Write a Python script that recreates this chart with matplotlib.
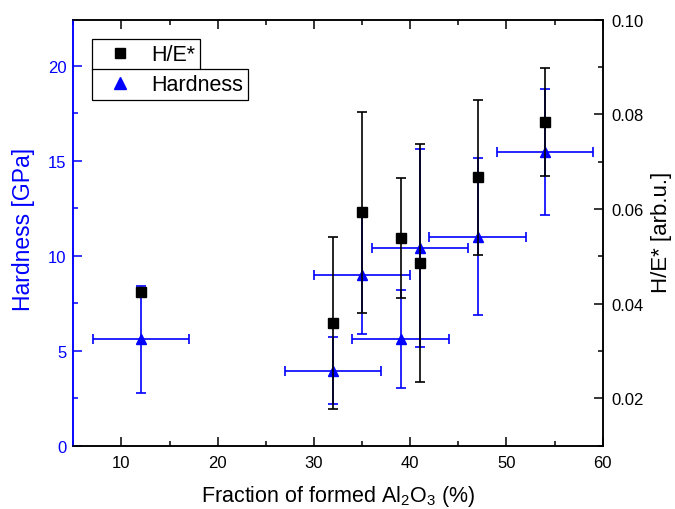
import matplotlib
matplotlib.use('Agg')
import matplotlib.pyplot as plt
from matplotlib.ticker import MultipleLocator, FormatStrFormatter
from matplotlib.lines import Line2D

plt.rcParams['font.family'] = ['Liberation Sans', 'DejaVu Sans']
plt.rcParams['mathtext.default'] = 'regular'

# fraction of formed Al2O3 (%) and its spread
frac = [12, 32, 35, 39, 41, 47, 54]
frac_err = [5, 5, 5, 5, 5, 5, 5]

# hardness [GPa]
hard = [5.6, 3.95, 9.0, 5.6, 10.4, 11.0, 15.45]
hard_err = [2.8, 1.75, 3.1, 2.57, 5.2, 4.12, 3.3]

# H/E* [arb.u.]
he = [0.0425, 0.0359, 0.0593, 0.0539, 0.0486, 0.0667, 0.0784]
he_err = [0.0005, 0.0182, 0.0213, 0.0127, 0.0251, 0.0164, 0.0114]

W, H = 675, 510
fig = plt.figure(figsize=(6.75, 5.1), dpi=100)
ax = fig.add_axes([0.1086, 0.1241, 0.7843, 0.8353])
ax2 = ax.twinx()

blue = '#0000ff'
ax.errorbar(frac, hard, yerr=hard_err, xerr=frac_err, fmt='^', color=blue,
            ms=7.5, elinewidth=1.2, capsize=3.3, capthick=1.2, zorder=3)
ax2.errorbar(frac, he, yerr=he_err, fmt='s', color='black',
             ms=6.5, elinewidth=1.2, capsize=3.3, capthick=1.2, zorder=3)

ax.set_xlim(5, 60)
ax.set_ylim(0, 22.42)
ax2.set_ylim(0.01, 0.10)

ax.xaxis.set_major_locator(MultipleLocator(10))
ax.xaxis.set_minor_locator(MultipleLocator(5))
ax.yaxis.set_major_locator(MultipleLocator(5))
ax.yaxis.set_minor_locator(MultipleLocator(2.5))
ax2.yaxis.set_major_locator(MultipleLocator(0.02))
ax2.yaxis.set_minor_locator(MultipleLocator(0.01))
ax2.yaxis.set_major_formatter(FormatStrFormatter('%.2f'))

for a in (ax, ax2):
    for s in a.spines.values():
        s.set_linewidth(1.1)
ax2.spines['left'].set_color(blue)
ax.spines['left'].set_color(blue)

ax.tick_params(axis='x', which='both', direction='in', top=True, labelsize=12, width=1.1, pad=7)
ax.tick_params(axis='x', which='major', length=6.5)
ax.tick_params(axis='x', which='minor', length=3.5)
ax.tick_params(axis='y', which='both', direction='in', colors=blue, labelsize=12, width=1.1, pad=5)
ax.tick_params(axis='y', which='major', length=6.5)
ax.tick_params(axis='y', which='minor', length=3.5)
ax2.tick_params(axis='y', which='both', direction='in', labelsize=12, width=1.1, pad=6.5)
ax2.tick_params(axis='y', which='major', length=6.5)
ax2.tick_params(axis='y', which='minor', length=3.5)

ax.set_xlabel('Fraction of formed Al$_2$O$_3$ (%)', fontsize=15.5, labelpad=9)
fig.text(24 / W, 1 - 229 / H, 'Hardness [GPa]', fontsize=16.5, color=blue,
         rotation=90, ha='center', va='center')
fig.text(662 / W, 1 - 232 / H, 'H/E* [arb.u.]', fontsize=16,
         rotation=90, ha='center', va='center')

# two stacked legend boxes
h1 = Line2D([], [], marker='s', color='black', ls='none', ms=7)
h2 = Line2D([], [], marker='^', color=blue, ls='none', ms=8)
leg_kw = dict(loc='upper left', bbox_transform=fig.transFigure, fontsize=15.5,
              fancybox=False, edgecolor='black', framealpha=1, borderpad=0.24,
              handletextpad=0.37, handlelength=2.12, borderaxespad=0)
leg1 = ax2.legend([h1], ['H/E*'], bbox_to_anchor=(92 / W, 1 - 40 / H), **leg_kw)
leg1.get_frame().set_linewidth(0.9)
ax2.add_artist(leg1)
leg2 = ax2.legend([h2], ['Hardness'], bbox_to_anchor=(92 / W, 1 - 70 / H), **leg_kw)
leg2.get_frame().set_linewidth(0.9)

fig.savefig('out.png', dpi=100)
